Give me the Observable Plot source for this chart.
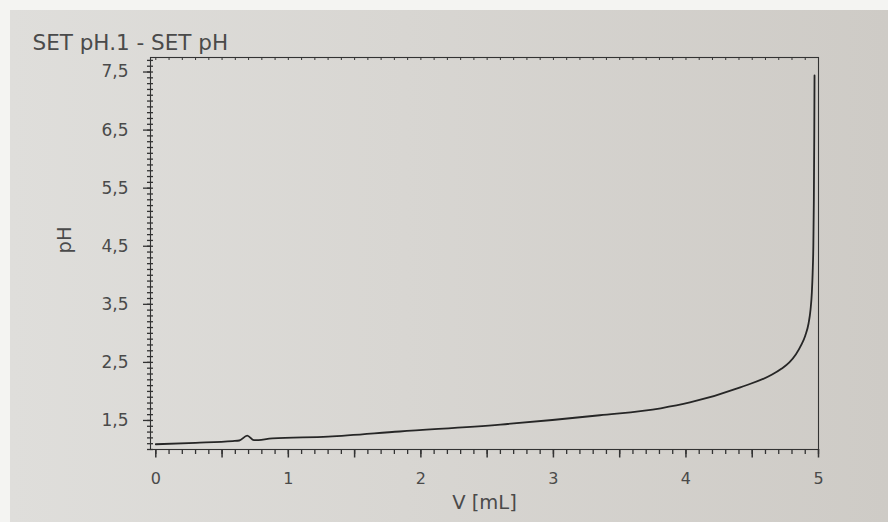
<!DOCTYPE html>
<html><head><meta charset="utf-8">
<script src="https://cdn.jsdelivr.net/npm/d3@7"></script>
<script src="https://cdn.jsdelivr.net/npm/@observablehq/plot@0.6"></script>
<style>
html,body{margin:0;padding:0;}
body{width:888px;height:522px;overflow:hidden;background:#f4f4f2;position:relative;}
#paper{position:absolute;left:10px;top:10px;width:878px;height:512px;
  background:linear-gradient(90deg,#dfdedb 0%,#d8d6d2 45%,#cecbc6 100%);}
#chart{position:absolute;left:0;top:0;}
</style></head><body><div id="paper"></div><div id="chart"></div>
<script>
// Titration data
const volume = [0, 0.3, 0.58, 0.63, 0.69, 0.74, 0.88, 1.3, 1.84, 2.6, 3.35, 3.81, 4.03, 4.41, 4.65, 4.72, 4.78, 4.83, 4.87, 4.9, 4.925, 4.94, 4.95, 4.956, 4.961, 4.965, 4.968, 4.97];
const ph     = [1.09, 1.115, 1.145, 1.155, 1.24, 1.16, 1.19, 1.22, 1.31, 1.43, 1.59, 1.71, 1.81, 2.07, 2.29, 2.39, 2.5, 2.64, 2.8, 2.96, 3.17, 3.41, 3.71, 4.05, 4.5, 5.3, 6.4, 7.44];

const xLabelTicks = [0, 1, 2, 3, 4, 5];
const xMajorTicks = [0, 0.5, 1, 1.5, 2, 2.5, 3, 3.5, 4, 4.5, 5];
const yLabelTicks = [1.5, 2.5, 3.5, 4.5, 5.5, 6.5, 7.5];
const xMinorTicks = d3.range(0, 51).map(i => i / 10);
const yMinorTicks = d3.range(10, 78).map(i => i / 10);

const titleText = "SET pH.1 - SET pH";
const xTitle = "V [mL]";
const yTitle = "pH";

const data = volume.map((v, i) => ({v, ph: ph[i]}));
const fmt = d => d3.format(".1f")(d).replace(".", ",");
const ink = "#333333";
const textInk = "#4a4a4a";

const chart = Plot.plot({
  width: 888, height: 522,
  marginLeft: 150, marginRight: 70, marginTop: 57, marginBottom: 73,
  style: {background: "transparent", fontFamily: "DejaVu Sans, Verdana, sans-serif", color: textInk, overflow: "visible"},
  x: {domain: [-0.04, 5], label: null},
  y: {domain: [1, 7.75], label: null},
  marks: [
    Plot.frame({stroke: ink, strokeWidth: 1.1}),
    // top border small ticks
    Plot.axisX({anchor: "top", ticks: xMinorTicks, tickSize: -2, fill: "none", stroke: ink}),
    // bottom axis
    Plot.axisX({anchor: "bottom", ticks: xMinorTicks, tickSize: 5, fill: "none", stroke: ink, strokeWidth: 1.3}),
    Plot.axisX({anchor: "bottom", ticks: xMajorTicks, tickSize: 8.5, fill: "none", stroke: ink, strokeWidth: 1.5}),
    Plot.axisX({anchor: "bottom", ticks: xLabelTicks, tickSize: 0, tickPadding: 23, fontSize: 16, tickFormat: d => String(d), fill: textInk, label: null}),
    // left axis
    Plot.axisY({anchor: "left", ticks: yMinorTicks, tickSize: 3, fill: "none", stroke: ink, strokeWidth: 1.3}),
    Plot.axisY({anchor: "left", ticks: yMinorTicks, tickSize: -3, fill: "none", stroke: ink, strokeWidth: 1.3}),
    Plot.axisY({anchor: "left", ticks: yLabelTicks, tickSize: 7, tickPadding: 15, fontSize: 17, tickFormat: fmt, stroke: ink, strokeWidth: 1.3, fill: textInk, label: null}),
    // curve
    Plot.line(data, {x: "v", y: "ph", stroke: "#262626", strokeWidth: 1.8, curve: "monotone-x"}),
    // titles
    Plot.text([titleText], {text: d => d, frameAnchor: "top-left", dx: -118, dy: -14, textAnchor: "start", lineAnchor: "middle", fontSize: 21.5, fill: textInk}),
    Plot.text([xTitle], {text: d => d, frameAnchor: "bottom", dy: 53, lineAnchor: "middle", fontSize: 19.5, fill: textInk}),
    Plot.text([yTitle], {text: d => d, frameAnchor: "left", dx: -86, rotate: -90, lineAnchor: "middle", fontSize: 19.5, fill: textInk})
  ]
});
document.getElementById("chart").appendChild(chart);
</script>
</body></html>
